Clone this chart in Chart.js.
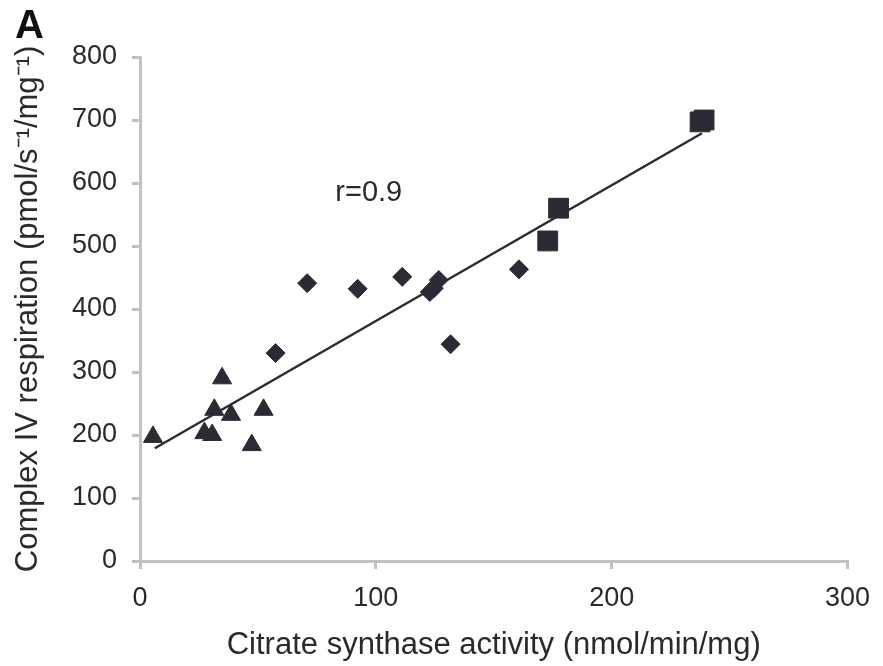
<!DOCTYPE html>
<html>
<head>
<meta charset="utf-8">
<script src="https://cdn.jsdelivr.net/npm/chart.js@4.4.1/dist/chart.umd.min.js"></script>
<style>
  html, body { margin: 0; padding: 0; background: #fff; }
  #wrap { width: 883px; height: 666px; }
</style>
</head>
<body>
<div id="wrap"><canvas id="c" width="883" height="666"></canvas></div>
<script>
const triangleX = [5.5, 27.3, 30.6, 31.5, 34.8, 38.6, 47.4, 52.4];
const triangleY = [197, 203, 200, 240, 290, 232, 184, 240];
const diamondX = [57.5, 70.9, 92.3, 111.2, 122.9, 124.6, 126.7, 131.7, 160.7];
const diamondY = [330, 441, 432, 451, 427, 433, 446, 344, 463];
const squareX = [172.9, 177.5, 237.5, 239.2];
const squareY = [508, 560, 697, 700];
const fitX = [6.3, 238.3];
const fitY = [179, 679];
const xTicks = [0, 100, 200, 300];
const yTicks = [0, 100, 200, 300, 400, 500, 600, 700, 800];
const rLabel = { x: 97, y: 584, text: "r=0.9" };

const ink = "#2b2b35";
const textInk = "#2a2a2a";
const axisGray = "#c2c2c2";
const font = "'Liberation Sans', Arial, sans-serif";

const toPoints = (xs, ys) => xs.map((x, i) => ({ x, y: ys[i] }));

const annotate = {
  id: "annotate",
  afterDraw(chart) {
    const { ctx, scales } = chart;
    ctx.save();
    ctx.fillStyle = "#111";
    ctx.font = `bold 40px ${font}`;
    ctx.textBaseline = "alphabetic";
    ctx.fillText("A", 15, 38);
    ctx.fillStyle = textInk;
    ctx.font = `29px ${font}`;
    ctx.textAlign = "center";
    ctx.textBaseline = "middle";
    ctx.fillText(rLabel.text, scales.x.getPixelForValue(rLabel.x), scales.y.getPixelForValue(rLabel.y));
    ctx.restore();
  },
};

new Chart(document.getElementById("c"), {
  type: "scatter",
  data: {
    datasets: [
      {
        label: "fit",
        type: "line",
        data: toPoints(fitX, fitY),
        borderColor: ink,
        borderWidth: 2.5,
        pointRadius: 0,
        fill: false,
      },
      {
        label: "triangles",
        data: toPoints(triangleX, triangleY),
        pointStyle: "triangle",
        pointRadius: 11,
        backgroundColor: ink,
        borderColor: ink,
      },
      {
        label: "diamonds",
        data: toPoints(diamondX, diamondY),
        pointStyle: "rectRot",
        pointRadius: 9.5,
        backgroundColor: ink,
        borderColor: ink,
      },
      {
        label: "squares",
        data: toPoints(squareX, squareY),
        pointStyle: "rect",
        pointRadius: 14,
        backgroundColor: ink,
        borderColor: ink,
      },
    ],
  },
  options: {
    responsive: false,
    animation: false,
    layout: { padding: { top: 57, right: 28, left: 0, bottom: 0 } },
    plugins: { legend: { display: false }, tooltip: { enabled: false } },
    scales: {
      x: {
        type: "linear",
        min: 0,
        max: 300,
        afterBuildTicks: (s) => { s.ticks = xTicks.map((v) => ({ value: v })); },
        afterFit: (s) => { s.height = 105; },
        border: { color: axisGray, width: 3 },
        grid: { drawOnChartArea: false, color: axisGray, tickLength: 8, lineWidth: 3 },
        ticks: { color: textInk, font: { size: 27, family: font }, padding: 13 },
        title: {
          display: true,
          text: "Citrate synthase activity (nmol/min/mg)",
          color: textInk,
          font: { size: 31, family: font },
          padding: { top: 0, bottom: 2 },
        },
      },
      y: {
        type: "linear",
        min: 0,
        max: 800,
        afterBuildTicks: (s) => { s.ticks = yTicks.map((v) => ({ value: v })); },
        afterFit: (s) => { s.width = 140; },
        border: { color: axisGray, width: 3 },
        grid: { drawOnChartArea: false, color: axisGray, tickLength: 8, lineWidth: 3 },
        ticks: { color: textInk, font: { size: 27, family: font }, padding: 15 },
        title: {
          display: true,
          text: "Complex IV respiration (pmol/s\u207B\u00B9/mg\u207B\u00B9)",
          color: textInk,
          font: { size: 31, family: font },
          padding: { top: 10, bottom: 0 },
        },
      },
    },
  },
  plugins: [annotate],
});
</script>
</body>
</html>
